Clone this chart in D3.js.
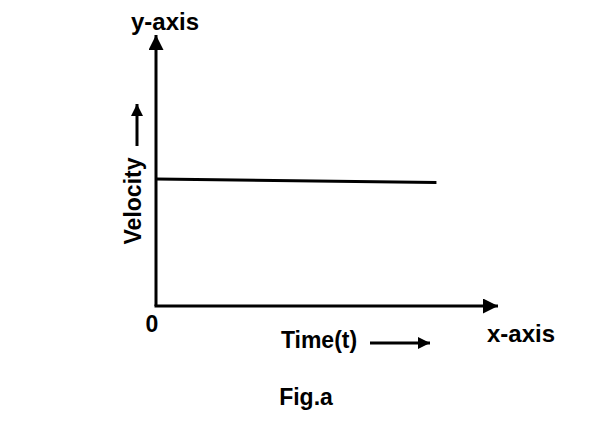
<!DOCTYPE html>
<html>
<head>
<style>
body { margin: 0; background: #fff; }
text { font-family: "Liberation Sans", Arial, sans-serif; font-weight: bold; fill: #000; }
</style>
<script src="https://d3js.org/d3.v7.min.js"></script>
</head>
<body>
<svg width="592" height="441"></svg>
<script>
// data
var time = [0, 8.2];
var velocity = [4.69, 4.56];
var axisMax = [10, 10];
var labels = { x: "x-axis", y: "y-axis", xTitle: "Time(t)", yTitle: "Velocity", origin: "0", caption: "Fig.a" };

var svg = d3.select("svg");

var xScale = d3.scaleLinear().domain([0, axisMax[0]]).range([156, 498]);
var yScale = d3.scaleLinear().domain([0, axisMax[1]]).range([306, 35]);

var defs = svg.append("defs");
function marker(id, w, h) {
  defs.append("marker")
    .attr("id", id)
    .attr("viewBox", "0 0 10 10")
    .attr("refX", 10).attr("refY", 5)
    .attr("markerUnits", "userSpaceOnUse")
    .attr("markerWidth", w).attr("markerHeight", h)
    .attr("orient", "auto")
    .append("path")
    .attr("d", "M0,0 L10,5 L0,10 Z")
    .attr("fill", "#000");
}
marker("big", 21, 15);
marker("small", 17, 12);

var line = d3.line();

// axes
svg.append("path")
  .attr("d", line([[xScale(0), yScale(0)], [xScale(0), yScale(axisMax[1])]]))
  .attr("stroke", "#000").attr("stroke-width", 3).attr("fill", "none")
  .attr("marker-end", "url(#big)");
svg.append("path")
  .attr("d", line([[xScale(0) - 1.5, yScale(0)], [xScale(axisMax[0]), yScale(0)]]))
  .attr("stroke", "#000").attr("stroke-width", 3).attr("fill", "none")
  .attr("marker-end", "url(#big)");

// velocity line
var vLine = d3.line()
  .x(function(d, i) { return xScale(time[i]); })
  .y(function(d) { return yScale(d); });
svg.append("path")
  .attr("d", vLine(velocity))
  .attr("stroke", "#000").attr("stroke-width", 3).attr("fill", "none");

// labels
svg.append("text").attr("x", 165).attr("y", 30).attr("text-anchor", "middle")
  .attr("font-size", 24).text(labels.y);
svg.append("text").attr("x", 521).attr("y", 342).attr("text-anchor", "middle")
  .attr("font-size", 24).text(labels.x);
svg.append("text").attr("x", 152).attr("y", 332).attr("text-anchor", "middle")
  .attr("font-size", 23).text(labels.origin);
svg.append("text").attr("x", 319).attr("y", 348).attr("text-anchor", "middle")
  .attr("font-size", 23).text(labels.xTitle);
svg.append("text").attr("transform", "translate(141,201) rotate(-90)")
  .attr("text-anchor", "middle").attr("font-size", 23).text(labels.yTitle);
svg.append("text").attr("x", 306).attr("y", 405).attr("text-anchor", "middle")
  .attr("font-size", 23).text(labels.caption);

// small direction arrows beside titles
svg.append("path")
  .attr("d", line([[370, 343], [430, 343]]))
  .attr("stroke", "#000").attr("stroke-width", 3).attr("fill", "none")
  .attr("marker-end", "url(#small)");
svg.append("path")
  .attr("d", line([[137, 146], [137, 104]]))
  .attr("stroke", "#000").attr("stroke-width", 3).attr("fill", "none")
  .attr("marker-end", "url(#small)");
</script>
</body>
</html>
